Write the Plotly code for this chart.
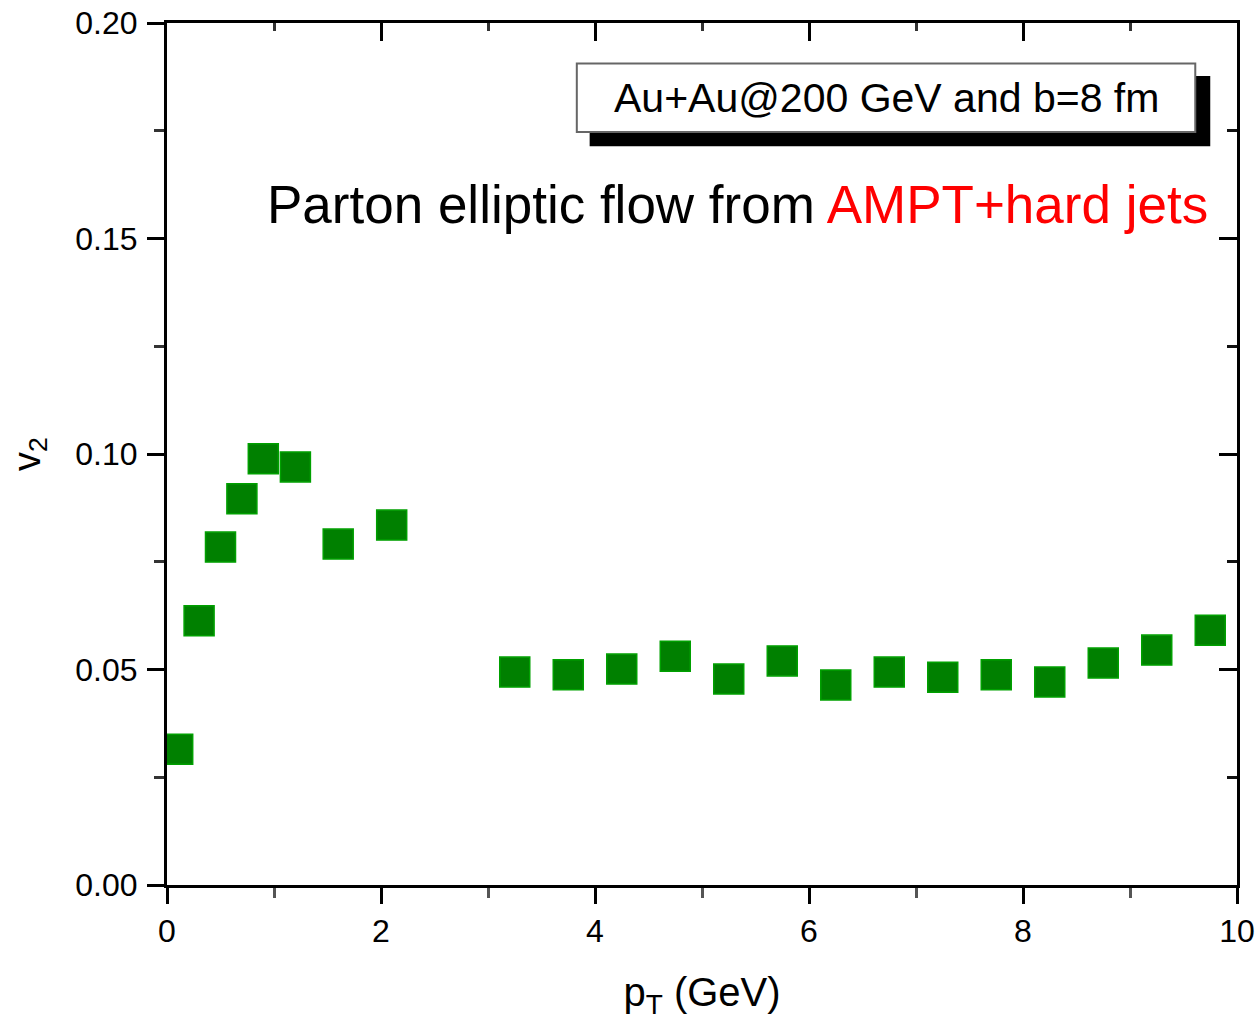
import plotly.graph_objects as go

# Parton v2 versus pT, Au+Au at 200 GeV, b = 8 fm
pt = [0.1, 0.3, 0.5, 0.7, 0.9, 1.2, 1.6, 2.1,
      3.25, 3.75, 4.25, 4.75, 5.25, 5.75, 6.25, 6.75, 7.25, 7.75, 8.25, 8.75, 9.25, 9.75]
v2 = [0.0315, 0.0613, 0.0784, 0.0896, 0.0989, 0.0970, 0.0791, 0.0835,
      0.0494, 0.0488, 0.0501, 0.0531, 0.0478, 0.0520, 0.0464, 0.0494, 0.0482, 0.0488,
      0.0471, 0.0515, 0.0545, 0.0591]

x_ticks = [0, 2, 4, 6, 8, 10]
y_ticks = [0.00, 0.05, 0.10, 0.15, 0.20]

FONT = "Liberation Sans, Arial, Helvetica, sans-serif"

fig = go.Figure()
fig.add_trace(go.Scatter(
    x=pt, y=v2, mode="markers",
    marker=dict(symbol="square", size=30, color="#008000",
                line=dict(color="#00a000", width=1.5)),
    showlegend=False,
))
# Invisible copy on the mirrored axes so the top/right frame with inward ticks is drawn
fig.add_trace(go.Scatter(
    x=pt, y=v2, mode="markers", xaxis="x2", yaxis="y2",
    marker=dict(opacity=0), hoverinfo="skip", showlegend=False,
))

axis_common = dict(showline=True, linecolor="black", linewidth=3, automargin=False,
                   tickcolor="black", tickwidth=3, showgrid=False, zeroline=False)

fig.update_layout(
    width=1257, height=1021,
    margin=dict(l=167, r=20, t=23, b=136),
    paper_bgcolor="white", plot_bgcolor="white",
    font=dict(family=FONT, color="black"),
    xaxis=dict(range=[0, 10], tickvals=x_ticks, ticks="outside", ticklen=16,
               minor=dict(dtick=1, ticks="outside", ticklen=10, tickwidth=3, tickcolor="#555"),
               tickfont=dict(size=32), ticklabelstandoff=0,
               title=dict(text="p<sub>T</sub> (GeV)", font=dict(size=40), standoff=30),
               **axis_common),
    yaxis=dict(range=[0, 0.2], tickvals=y_ticks, tickformat=".2f", ticks="outside", ticklen=17,
               minor=dict(dtick=0.025, ticks="outside", ticklen=10, tickwidth=3, tickcolor="#333"),
               tickfont=dict(size=32), ticklabelstandoff=3,
               title=dict(text="v<sub>2</sub>", font=dict(size=38), standoff=24),
               **axis_common),
    xaxis2=dict(range=[0, 10], overlaying="x", side="top", tickvals=x_ticks,
                ticks="inside", ticklen=18, showticklabels=False,
                minor=dict(dtick=1, ticks="inside", ticklen=8, tickwidth=3, tickcolor="#333"),
                **axis_common),
    yaxis2=dict(range=[0, 0.2], overlaying="y", side="right", tickvals=y_ticks,
                ticks="inside", ticklen=18, showticklabels=False,
                minor=dict(dtick=0.025, ticks="inside", ticklen=10, tickwidth=3, tickcolor="#111"),
                **axis_common),
)

# Framed label with a drop shadow
fig.add_shape(type="rect", xref="x", yref="y", x0=3.95, x1=9.75, y0=0.1714, y1=0.1877,
              fillcolor="black", line=dict(width=0), layer="above")
fig.add_shape(type="rect", xref="x", yref="y", x0=3.83, x1=9.61, y0=0.1747, y1=0.1906,
              fillcolor="white", line=dict(color="#666666", width=2), layer="above")
fig.add_annotation(xref="x", yref="y", x=6.72, y=0.1827, text="Au+Au@200 GeV and b=8 fm",
                   showarrow=False, font=dict(size=41, family=FONT, color="black"),
                   xanchor="center", yanchor="middle")

fig.add_annotation(xref="x", yref="y", x=9.75, y=0.1578,
                   text="Parton elliptic flow from <span style='color:#ff0000'>AMPT+hard jets</span>",
                   showarrow=False, font=dict(size=53, family=FONT, color="black"),
                   xanchor="right", yanchor="middle")

fig.write_html("out.html")
